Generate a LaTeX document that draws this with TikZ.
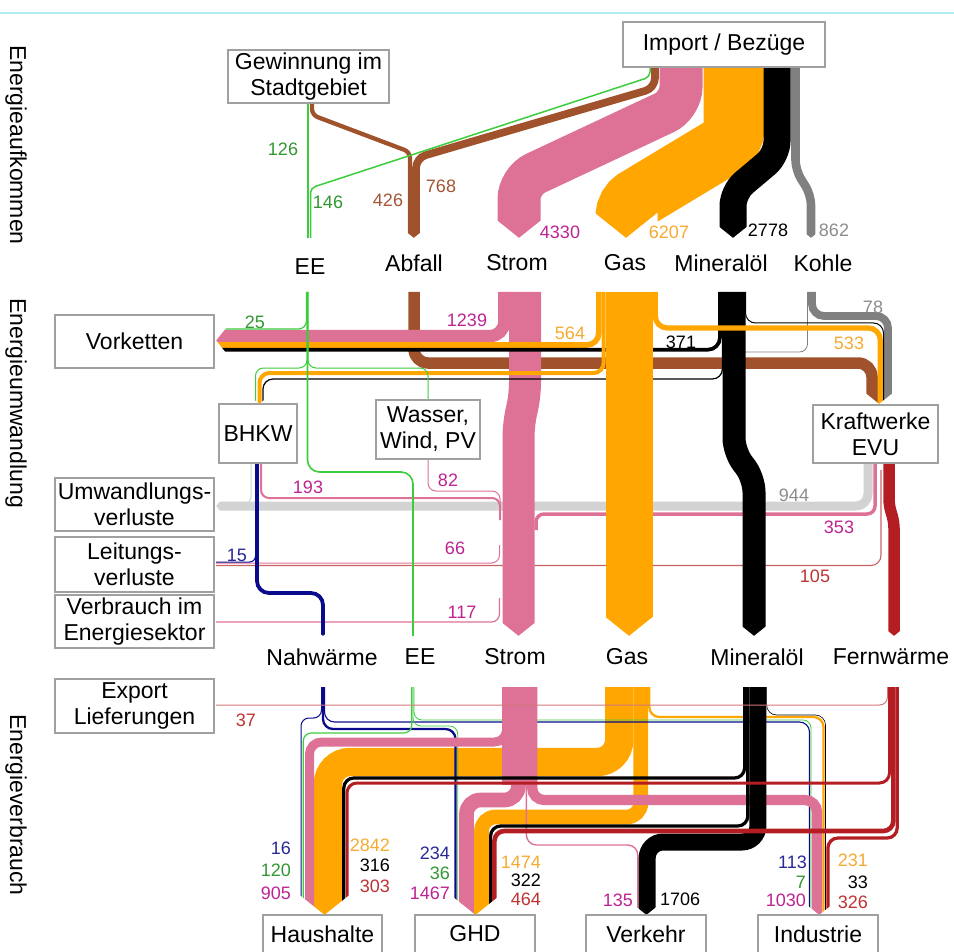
\documentclass[tikz,border=0pt]{standalone}
\usepackage{fontspec}
\setmainfont{Liberation Sans}
\definecolor{strom}{RGB}{222,114,150}
\definecolor{stromtxt}{RGB}{190,35,145}
\definecolor{gas}{RGB}{255,166,0}
\definecolor{gastxt}{RGB}{245,170,50}
\definecolor{abfall}{RGB}{160,82,45}
\definecolor{abfalltxt}{RGB}{165,85,50}
\definecolor{ee}{RGB}{60,205,60}
\definecolor{eetxt}{RGB}{50,150,50}
\definecolor{kohle}{RGB}{128,128,128}
\definecolor{kohletxt}{RGB}{140,140,140}
\definecolor{verlust}{RGB}{211,211,211}
\definecolor{nahw}{RGB}{10,10,140}
\definecolor{nahwtxt}{RGB}{40,40,150}
\definecolor{fernw}{RGB}{180,30,35}
\definecolor{fernwtxt}{RGB}{190,50,50}
\definecolor{rahmen}{RGB}{160,160,160}
\definecolor{linie}{RGB}{175,238,245}
\newcommand\labfont{\fontsize{23}{26}\selectfont}
\newcommand\numfont{\fontsize{18}{20}\selectfont}
% white cut for a pointed end: x, y of the tip, half width
\newcommand\notch[3]{\fill[white] ({#1-#3-1},{#2-0.8*(#3+1)}) -- (#1,#2) -- ({#1+#3+1},{#2-0.8*(#3+1)}) -- ({#1+#3+1},{#2+3}) -- ({#1-#3-1},{#2+3}) -- cycle;}
\newcommand\notchleft[3]{\fill[white] ({#1+0.8*(#3+1)},{#2-#3-1}) -- (#1,#2) -- ({#1+0.8*(#3+1)},{#2+#3+1}) -- ({#1-3},{#2+#3+1}) -- ({#1-3},{#2-#3-1}) -- cycle;}
\begin{document}
\begin{tikzpicture}[x=1pt,y=-1pt,
  box/.style={draw=rahmen,line width=1.2pt,fill=white,align=center,inner sep=1pt,font=\labfont},
  lab/.style={font=\labfont,inner sep=0pt},
  num/.style={font=\numfont,inner sep=0pt},
  bw/.style={line width=#1pt}]
\useasboundingbox (0,0) rectangle (954,952);
\draw[linie,line width=2pt] (0,13) -- (954,13);

% Energieaufkommen
\draw[strom,bw=43,rounded corners=18pt] (681,67) -- (681,105) -- (519,181) -- (519,238);
\draw[gas,bw=61,rounded corners=11pt] (734,67) -- (734,140) -- (626,205) -- (626,238);
\draw[black,bw=27,rounded corners=14pt] (777,67) -- (777,155) -- (733,192) -- (733,238);
\draw[kohle,bw=8.6,rounded corners=10pt] (795.5,67) -- (795.5,170) -- (811,195) -- (811,238);
\draw[abfall,bw=7.7,rounded corners=10pt] (655,67) -- (655,88) -- (416,158) -- (416,238);
\draw[abfall,bw=4.3,rounded corners=6pt] (312,103) -- (312,115) -- (410,152) -- (410,238);
\draw[ee,bw=1.8] (308,103) -- (308,238);
\draw[ee,bw=1.5,rounded corners=5pt] (650,67) -- (650,77) -- (310.5,188) -- (310.5,238);
\notch{413.8}{238}{6}
\notch{519}{238}{21.5}
\notch{626}{238}{30.5}
\notch{733}{238}{13.5}
\notch{811}{238}{4.3}

% Energieumwandlung
\draw[verlust,bw=9,rounded corners=12pt] (868,463) -- (868,506) -- (216,506);
\draw[verlust,bw=1,rounded corners=6pt] (251,463) -- (251,503) -- (236,503);
\draw[strom,bw=1,rounded corners=8pt] (499.5,545) -- (499.5,563) -- (216,563);
\draw[strom,bw=1.2,rounded corners=8pt] (499.5,598) -- (499.5,622) -- (216,622);
\draw[fernw!70,bw=1.1,rounded corners=10pt] (881,470) -- (881,565.5) -- (216,565.5);
\draw[nahw,bw=1,rounded corners=6pt] (255.5,540) -- (255.5,562) -- (216,562);
\draw[strom,bw=2,rounded corners=8pt] (261,463) -- (261,498) -- (500,498) -- (500,520);
\draw[strom,bw=1,rounded corners=8pt] (428,459) -- (428,491) -- (500,491) -- (500,510);
\draw[abfall,bw=11.5,rounded corners=14pt] (414,292) -- (414,363) -- (872,363) -- (872,404);
\draw[kohle,bw=7.8,rounded corners=12pt] (812,292) -- (812,316) -- (888,316) -- (888,404);
\draw[kohle,bw=0.8,rounded corners=8pt] (807.5,292) -- (807.5,352) -- (740,352);
\draw[black,bw=1,rounded corners=10pt] (745.5,292) -- (745.5,323) -- (883.5,323) -- (883.5,404);
\draw[strom,bw=3.5,rounded corners=8pt] (875,463) -- (875,514) -- (536,514) -- (536,530);
\draw[strom,bw=32,rounded corners=12pt] (525,292) -- (525,395) -- (518.5,425) -- (518.5,636);
\draw[strom,bw=12.4,rounded corners=14pt] (504.2,292) -- (504.2,336) -- (216,336);
\draw[gas,bw=5.6,rounded corners=12pt] (598.8,292) -- (598.8,345) -- (216,345);
\draw[black,bw=3.7,rounded corners=12pt] (719.9,292) -- (719.9,349.7) -- (216,349.7);
\draw[gas,bw=4,rounded corners=10pt] (603.6,292) -- (603.6,373) -- (259.5,373) -- (259.5,404);
\draw[black,bw=1.2,rounded corners=10pt] (722.4,292) -- (722.4,379) -- (263,379) -- (263,404);
\draw[gas,bw=47] (629,292) -- (629,636);
\draw[black,bw=23,rounded corners=14pt] (734,292) -- (734,452) -- (754,478) -- (754,636);
\draw[gas,bw=5.3,rounded corners=12pt] (655.3,292) -- (655.3,328) -- (880.3,328) -- (880.3,404);
\draw[fernw,bw=11.5,rounded corners=6pt] (889,463) -- (889,505) -- (894,522) -- (894,636);
\draw[nahw,bw=3.8,rounded corners=12pt] (257,463) -- (257,593) -- (323,593) -- (323,636);
\draw[ee,bw=1.2,rounded corners=8pt] (306.5,292) -- (306.5,329) -- (216,329);
\draw[ee,bw=1,rounded corners=8pt] (307,292) -- (307,368) -- (255.5,368) -- (255.5,404);
\draw[ee,bw=1,rounded corners=8pt] (308,292) -- (308,368) -- (428,368) -- (428,400);
\draw[ee,bw=1.6,rounded corners=12pt] (307.5,292) -- (307.5,472) -- (413,472) -- (413,636);
\notchleft{216}{340.5}{12}
\notchleft{216}{506}{4.5}
\notch{259.3}{404}{4.5}
\notch{879.1}{404}{12.9}
\notch{323}{636}{1.9}
\notch{518.5}{636}{16}
\notch{629}{636}{23.5}
\notch{754}{636}{11.5}
\notch{894}{636}{5.75}

% Energieverbrauch
\draw[gas,bw=28.4,rounded corners=22pt] (619.2,687) -- (619.2,762) -- (328,762) -- (328,915);
\draw[gas,bw=14.7,rounded corners=14pt] (640.8,687) -- (640.8,817) -- (481.5,817) -- (481.5,915);
\draw[gas,bw=2.3,rounded corners=10pt] (649.3,687) -- (649.3,717) -- (823.5,717) -- (823.5,915);
\draw[nahw,bw=1,rounded corners=8pt] (321.5,687) -- (321.5,718) -- (301,718) -- (301,915);
\draw[nahw,bw=2.3,rounded corners=10pt] (323,687) -- (323,729) -- (455.5,729) -- (455.5,915);
\draw[nahw,bw=1.1,rounded corners=10pt] (324.5,687) -- (324.5,722) -- (809.5,722) -- (809.5,915);
\draw[ee,bw=1.2,rounded corners=8pt] (411.8,687) -- (411.8,733) -- (303.3,733) -- (303.3,915);
\draw[ee,bw=0.8,rounded corners=8pt] (413,687) -- (413,726) -- (457.7,726) -- (457.7,915);
\draw[ee,bw=0.8,rounded corners=8pt] (414,687) -- (414,720) -- (811,720) -- (811,915);
\draw[strom,bw=1.4,rounded corners=10pt] (526.4,687) -- (526.4,845) -- (637.8,845) -- (637.8,915);
\draw[strom,bw=9,rounded corners=12pt] (506.5,687) -- (506.5,742) -- (309.5,742) -- (309.5,915);
\draw[strom,bw=14.7,rounded corners=14pt] (518.4,687) -- (518.4,800) -- (466.5,800) -- (466.5,915);
\draw[strom,bw=10.3,rounded corners=12pt] (532.2,687) -- (532.2,800) -- (817,800) -- (817,915);
\draw[strom,bw=35] (519.5,687) -- (519.5,785);
\draw[black,bw=3.2,rounded corners=10pt] (744.6,687) -- (744.6,778) -- (343.8,778) -- (343.8,915);
\draw[black,bw=3.2,rounded corners=10pt] (747.8,687) -- (747.8,826) -- (490.6,826) -- (490.6,915);
\draw[black,bw=17,rounded corners=16pt] (757.9,687) -- (757.9,842) -- (647.2,842) -- (647.2,915);
\draw[black,bw=0.6,rounded corners=10pt] (766.6,687) -- (766.6,715) -- (825.5,715) -- (825.5,915);
\draw[fernw!60,bw=1,rounded corners=8pt] (887.5,687) -- (887.5,705) -- (216,705);
\draw[fernw,bw=3,rounded corners=10pt] (889.5,687) -- (889.5,783) -- (347,783) -- (347,915);
\draw[fernw,bw=4.6,rounded corners=10pt] (893.3,687) -- (893.3,831) -- (494.4,831) -- (494.4,915);
\draw[fernw,bw=3.3,rounded corners=10pt] (897.2,687) -- (897.2,838) -- (827.9,838) -- (827.9,915);
\notch{324.5}{915}{24}
\notch{475.5}{915}{21.2}
\notch{646.4}{915}{9.3}
\notch{819.2}{915}{10.3}

% Kaesten
\node[box,minimum width=161pt,minimum height=53pt] (gewinnung) at (308.5,76.5) {Gewinnung im\\Stadtgebiet};
\node[box,minimum width=202pt,minimum height=45pt] (import) at (724,44.5) {Import / Bezüge};
\node[box,minimum width=159pt,minimum height=53pt] (vorketten) at (134.5,341.5) {Vorketten};
\node[box,minimum width=78pt,minimum height=59pt] (bhkw) at (258,433.5) {BHKW};
\node[box,minimum width=104pt,minimum height=59pt] (wasser) at (428,429.5) {Wasser,\\Wind, PV};
\node[box,minimum width=125pt,minimum height=58pt] (kraftwerke) at (875.5,434) {Kraftwerke\\EVU};
\node[box,minimum width=159pt,minimum height=53pt] (umwandlung) at (134.5,504.5) {Umwandlungs-\\verluste};
\node[box,minimum width=159pt,minimum height=55pt] (leitung) at (134.5,564.5) {Leitungs-\\verluste};
\node[box,minimum width=159pt,minimum height=53pt] (verbrauch) at (134.5,621.5) {Verbrauch im\\Energiesektor};
\node[box,minimum width=159pt,minimum height=54pt] (export) at (134.5,706) {Export\\Lieferungen};
\node[box,minimum width=119pt,minimum height=38pt] (haushalte) at (322.5,934) {Haushalte};
\node[box,minimum width=120pt,minimum height=38pt] (ghd) at (475,934) {GHD};
\node[box,minimum width=120pt,minimum height=38pt] (verkehr) at (646,934) {Verkehr};
\node[box,minimum width=120pt,minimum height=38pt] (industrie) at (818,934) {Industrie};

% Beschriftungen
\node[lab,rotate=-90] (aufkommen) at (16,145) {Energieaufkommen};
\node[lab,rotate=-90] (umwandl) at (16,403) {Energieumwandlung};
\node[lab,rotate=-90] (verbr) at (16,805) {Energieverbrauch};
\node[lab] (ee1) at (310,267) {EE};
\node[lab] (abfall1) at (414,263) {Abfall};
\node[lab] (strom1) at (517,263) {Strom};
\node[lab] (gas1) at (625,263) {Gas};
\node[lab] (oel1) at (721,263) {Mineralöl};
\node[lab] (kohle1) at (823,263) {Kohle};
\node[lab] (nahw2) at (322,657) {Nahwärme};
\node[lab] (ee2) at (420,657) {EE};
\node[lab] (strom2) at (515,657) {Strom};
\node[lab] (gas2) at (627,657) {Gas};
\node[lab] (oel2) at (757,657) {Mineralöl};
\node[lab] (fernw2) at (891,657) {Fernwärme};

% Zahlen
\node[num,text=eetxt] (n126) at (283,149) {126};
\node[num,text=eetxt] (n146) at (328,202) {146};
\node[num,text=abfalltxt] (n426) at (388,200) {426};
\node[num,text=abfalltxt] (n768) at (441,186) {768};
\node[num,text=stromtxt] (n4330) at (560,232) {4330};
\node[num,text=gastxt] (n6207) at (669,232) {6207};
\node[num] (n2778) at (768,230) {2778};
\node[num,text=kohletxt] (n862) at (834,230) {862};
\node[num,text=eetxt] (n25) at (255,322) {25};
\node[num,text=stromtxt] (n1239) at (467,320) {1239};
\node[num,text=gastxt] (n564) at (570,333) {564};
\node[num] (n371) at (681,342) {371};
\node[num,text=kohletxt] (n78) at (873,307) {78};
\node[num,text=gastxt] (n533) at (849,343) {533};
\node[num,text=stromtxt] (n193) at (308,487) {193};
\node[num,text=stromtxt] (n82) at (448,480) {82};
\node[num,text=kohletxt] (n944) at (794,495) {944};
\node[num,text=stromtxt] (n353) at (839,527) {353};
\node[num,text=nahwtxt] (n15) at (237,555) {15};
\node[num,text=stromtxt] (n66) at (455,548) {66};
\node[num,text=fernwtxt] (n105) at (815,576) {105};
\node[num,text=stromtxt] (n117) at (462,612) {117};
\node[num,text=fernwtxt] (n37) at (246,720) {37};
\node[num,text=nahwtxt,anchor=east] (n16) at (291,848) {16};
\node[num,text=eetxt,anchor=east] (n120) at (291,870) {120};
\node[num,text=stromtxt,anchor=east] (n905) at (291,893) {905};
\node[num,text=gastxt,anchor=east] (n2842) at (390,845) {2842};
\node[num,anchor=east] (n316) at (390,865) {316};
\node[num,text=fernwtxt,anchor=east] (n303) at (390,886) {303};
\node[num,text=nahwtxt,anchor=east] (n234) at (450,853) {234};
\node[num,text=eetxt,anchor=east] (n36) at (450,873) {36};
\node[num,text=stromtxt,anchor=east] (n1467) at (450,893) {1467};
\node[num,text=gastxt,anchor=east] (n1474) at (541,862) {1474};
\node[num,anchor=east] (n322) at (541,880) {322};
\node[num,text=fernwtxt,anchor=east] (n464) at (541,899) {464};
\node[num,text=stromtxt,anchor=east] (n135) at (633,900) {135};
\node[num,anchor=west] (n1706) at (660,899) {1706};
\node[num,text=nahwtxt,anchor=east] (n113) at (807,862) {113};
\node[num,text=eetxt,anchor=east] (n7) at (806,882) {7};
\node[num,text=stromtxt,anchor=east] (n1030) at (806,900) {1030};
\node[num,text=gastxt,anchor=east] (n231) at (868,860) {231};
\node[num,anchor=east] (n33) at (868,882) {33};
\node[num,text=fernwtxt,anchor=east] (n326) at (868,902) {326};
\end{tikzpicture}
\end{document}
